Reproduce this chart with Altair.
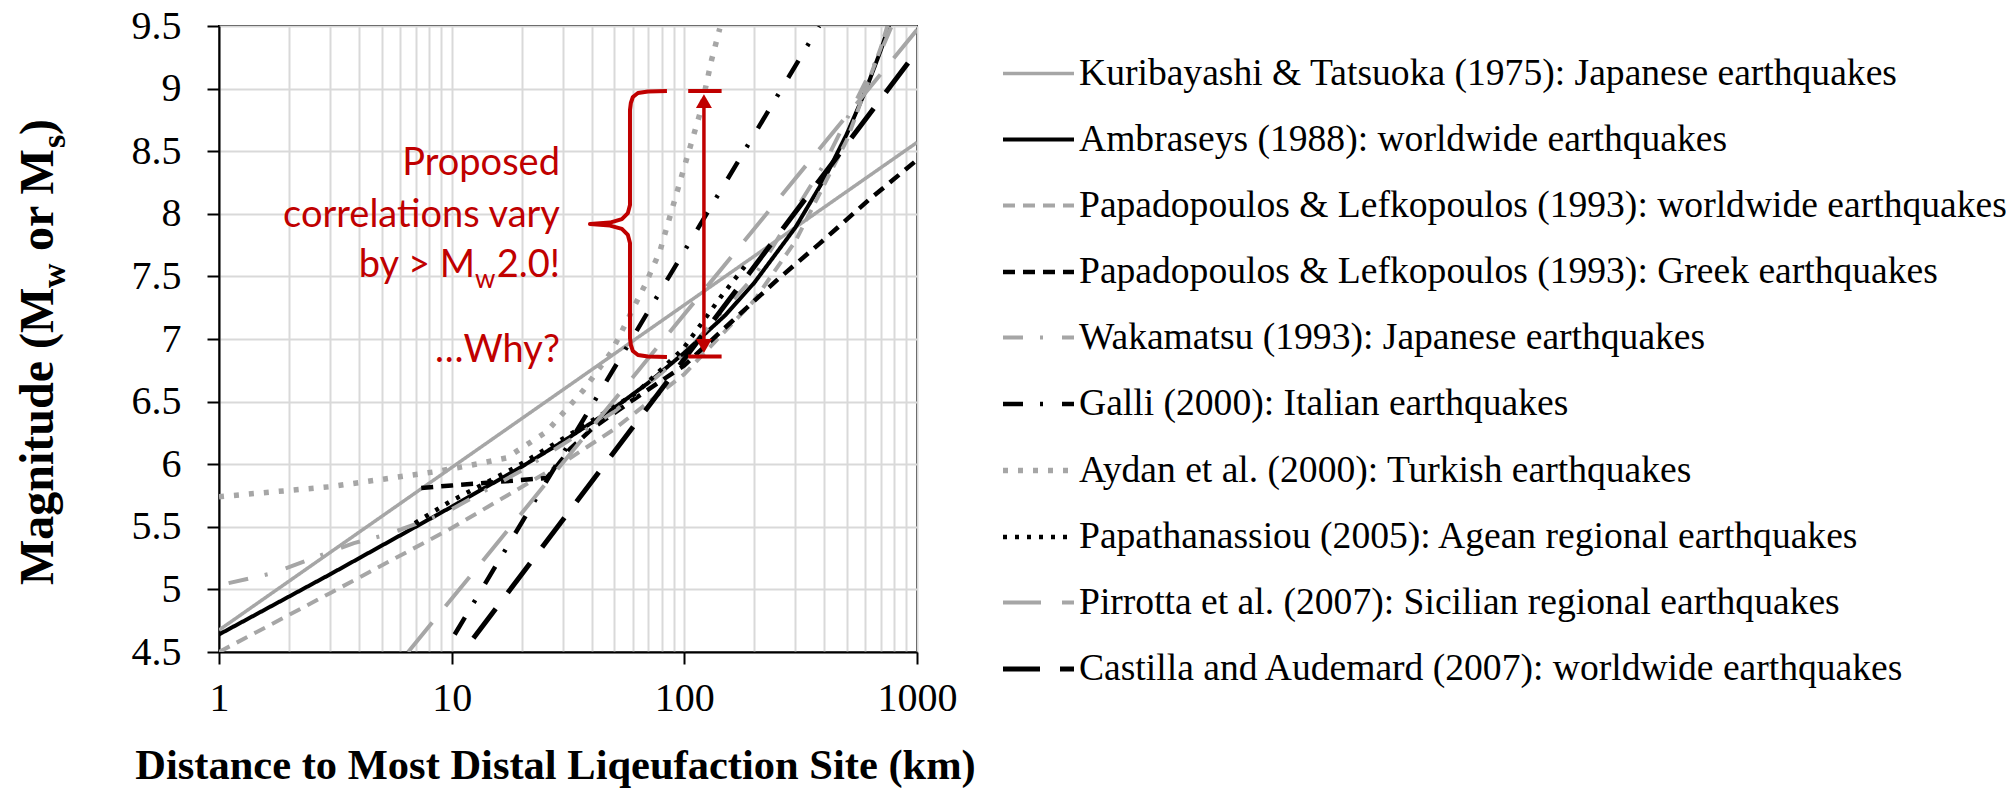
import altair as alt
import pandas as pd

# ---------------- data ----------------
NAMES = [
    "Kuribayashi & Tatsuoka (1975): Japanese earthquakes",
    "Ambraseys (1988): worldwide earthquakes",
    "Papadopoulos & Lefkopoulos (1993): worldwide earthquakes",
    "Papadopoulos & Lefkopoulos (1993): Greek earthquakes",
    "Wakamatsu (1993): Japanese earthquakes",
    "Galli (2000): Italian earthquakes",
    "Aydan et al. (2000): Turkish earthquakes",
    "Papathanassiou (2005): Agean regional earthquakes",
    "Pirrotta et al. (2007): Sicilian regional earthquakes",
    "Castilla and Audemard (2007): worldwide earthquakes",
]

KT_X = [1, 1000]
KT_M = [4.675, 8.57]

AMB_X = [1, 3, 10, 20, 30, 50, 70, 100, 150, 200, 300, 400, 500, 600, 700, 760]
AMB_M = [4.64, 5.12, 5.66, 5.98, 6.18, 6.45, 6.65, 6.89, 7.19, 7.45, 7.89, 8.28, 8.64, 8.98, 9.31, 9.51]

PLW_X = [1, 3, 10, 30, 50, 100, 200, 300, 500, 700, 760]
PLW_M = [4.50, 4.97, 5.49, 6.01, 6.28, 6.72, 7.31, 7.78, 8.59, 9.33, 9.55]

PLG_X = [7.4, 10, 16, 25.6, 28.2, 32.2, 40.5, 62, 100, 160, 250, 380, 620, 1000]
PLG_M = [5.81, 5.83, 5.86, 5.89, 5.98, 6.12, 6.29, 6.53, 6.79, 7.14, 7.47, 7.76, 8.11, 8.43]

WAK_X = [1.1, 1.7, 3.8, 5.3, 8, 10, 20, 50, 100, 200, 400, 700, 800]
WAK_M = [5.05, 5.13, 5.37, 5.44, 5.56, 5.64, 5.95, 6.42, 6.88, 7.50, 8.40, 9.30, 9.55]

GAL_X = [10.3, 380]
GAL_M = [4.64, 9.50]

AYD_X = [1, 3, 8.5, 11.2, 17.2, 25.6, 36.8, 48.7, 67.7, 78.5, 97.3, 116.7, 131, 142]
AYD_M = [5.74, 5.82, 5.94, 5.98, 6.05, 6.26, 6.59, 6.90, 7.43, 7.70, 8.30, 8.80, 9.23, 9.48]

PAP_X = [6.95, 9.8, 19, 34.4, 62.2, 98.6, 114, 144, 182]
PAP_M = [5.53, 5.70, 5.98, 6.27, 6.57, 6.92, 7.08, 7.34, 7.58]

PIR_X = [6.5, 1000]
PIR_M = [4.50, 9.47]

CAS_X = [12.4, 1000]
CAS_M = [4.61, 9.30]

SERIES_X = [KT_X, AMB_X, PLW_X, PLG_X, WAK_X, GAL_X, AYD_X, PAP_X, PIR_X, CAS_X]
SERIES_M = [KT_M, AMB_M, PLW_M, PLG_M, WAK_M, GAL_M, AYD_M, PAP_M, PIR_M, CAS_M]

GRAY = "#a6a6a6"
BLACK = "#000000"
RED = "#c00000"
COLORS = [GRAY, BLACK, GRAY, BLACK, GRAY, BLACK, GRAY, BLACK, GRAY, BLACK]
DASHES = [[1, 0], [1, 0], [12, 8], [12, 8], [20, 17, 3, 19], [20, 17, 3, 19],
          [5, 10], [4, 8], [38, 21], [37, 20]]
WIDTHS = [3.5, 4, 4, 4.5, 4, 4.5, 5.5, 4.5, 4, 5]

X_TICKS = [1, 2, 3, 4, 5, 6, 7, 8, 9, 10, 20, 30, 40, 50, 60, 70, 80, 90,
           100, 200, 300, 400, 500, 600, 700, 800, 900, 1000]
Y_TICKS = [4.5, 5, 5.5, 6, 6.5, 7, 7.5, 8, 8.5, 9, 9.5]

# annotation (data units)
BRACE_X = [84.2, 69.8, 63.2, 60.1, 58.9, 58.4, 58.4, 57.2, 53.9, 47.9, 39.3,
           47.9, 53.9, 57.2, 58.4, 58.4, 58.9, 60.1, 63.2, 69.8, 84.2]
BRACE_M = [8.981, 8.977, 8.965, 8.933, 8.885, 8.829, 8.070, 8.006, 7.958, 7.930, 7.918,
           7.906, 7.879, 7.831, 7.767, 7.008, 6.952, 6.904, 6.872, 6.860, 6.856]
ARROW_X = 121.4
ARROW_TOP = 8.98
ARROW_BOT = 6.86
CAP_X = [103.9, 144.6]
NOTE_X = 29.2
NOTE_LINES = ["Proposed", "correlations vary", "\u2026Why?"]
NOTE_M = [8.31, 7.895, 6.816]
NOTE_BY_M = 7.495

rows = []
for name, xs, ms in zip(NAMES, SERIES_X, SERIES_M):
    for i, (x, m) in enumerate(zip(xs, ms)):
        rows.append({"name": name, "x": x, "m": m, "idx": i})
df = pd.DataFrame(rows)

xscale = alt.Scale(type="log", domain=[1, 1000], nice=False)
yscale = alt.Scale(domain=[4.5, 9.5], nice=False, zero=False)

legend = alt.Legend(
    title=None, orient="none", legendX=781, legendY=10,
    symbolType="stroke", symbolSize=5041, symbolStrokeWidth=3.5,
    labelFont="Liberation Serif", labelFontSize=37.6, labelColor="black",
    labelLimit=1200, labelOffset=2, rowPadding=9, padding=0,
)

decade_test = "indexof([1,10,100,1000], datum.value) >= 0"

x_enc = alt.X(
    "x:Q", scale=xscale,
    axis=alt.Axis(
        values=X_TICKS,
        labelExpr=decade_test + " ? format(datum.value, 'd') : ''",
        labelOverlap=False, labelFlush=False,
        grid=True, gridColor="#d9d9d9", gridWidth=2,
        tickSize=12, tickWidth=2, tickColor="black",
        tickOpacity={"condition": {"test": decade_test, "value": 1}, "value": 0},
        domainColor="black", domainWidth=2,
        labelFont="Liberation Serif", labelFontSize=40, labelColor="black",
        labelPadding=14,
        title="Distance to Most Distal Liqeufaction Site (km)",
        titleFont="Liberation Serif", titleFontSize=42.5, titleFontWeight="bold",
        titleColor="black", titleBaseline="alphabetic", titleY=126, titleX=336,
    ),
)
y_enc = alt.Y(
    "m:Q", scale=yscale,
    axis=alt.Axis(
        values=Y_TICKS, format="~g",
        grid=True, gridColor="#d9d9d9", gridWidth=2,
        tickSize=12, tickWidth=2, tickColor="black",
        domainColor="black", domainWidth=2,
        labelFont="Liberation Serif", labelFontSize=40, labelColor="black",
        labelPadding=26, title=None,
    ),
)

lines = alt.Chart(df).mark_line(clip=True, strokeCap="butt", strokeJoin="round").encode(
    x=x_enc,
    y=y_enc,
    color=alt.Color("name:N", scale=alt.Scale(domain=NAMES, range=COLORS), sort=NAMES, legend=legend),
    strokeDash=alt.StrokeDash("name:N", scale=alt.Scale(domain=NAMES, range=DASHES), sort=NAMES, legend=legend),
    strokeWidth=alt.StrokeWidth("name:N", scale=alt.Scale(type="ordinal", domain=NAMES, range=WIDTHS), legend=None),
    order="idx:Q",
)

brace_df = pd.DataFrame({"x": BRACE_X, "m": BRACE_M, "i": list(range(len(BRACE_X)))})
brace = alt.Chart(brace_df).mark_line(color=RED, strokeWidth=4, strokeJoin="round").encode(
    x="x:Q", y="m:Q", order="i:Q")

arrow_df = pd.DataFrame({"x": [ARROW_X], "top": [ARROW_TOP - 0.1], "bot": [ARROW_BOT + 0.1]})
arrow = alt.Chart(arrow_df).mark_rule(color=RED, strokeWidth=3.5).encode(
    x="x:Q", y="top:Q", y2="bot:Q")

caps_df = pd.DataFrame({"x": [CAP_X[0]] * 2, "x2": [CAP_X[1]] * 2, "m": [ARROW_TOP, ARROW_BOT]})
caps = alt.Chart(caps_df).mark_rule(color=RED, strokeWidth=4).encode(
    x="x:Q", x2="x2:Q", y="m:Q")

head_up = alt.Chart(pd.DataFrame({"x": [ARROW_X], "m": [8.90]})).mark_point(
    shape="triangle-up", filled=True, color=RED, size=256, opacity=1).encode(x="x:Q", y="m:Q")
head_dn = alt.Chart(pd.DataFrame({"x": [ARROW_X], "m": [6.944]})).mark_point(
    shape="triangle-down", filled=True, color=RED, size=256, opacity=1).encode(x="x:Q", y="m:Q")

NOTE_FONT = "Lato"
notes = alt.Chart(pd.DataFrame({"x": [NOTE_X] * 3, "m": NOTE_M, "t": NOTE_LINES})).mark_text(
    align="right", baseline="alphabetic", font=NOTE_FONT, fontSize=38, color=RED).encode(
    x="x:Q", y="m:Q", text="t:N")
note_a = alt.Chart(pd.DataFrame({"x": [NOTE_X], "m": [NOTE_BY_M], "t": ["2.0!"]})).mark_text(
    align="right", baseline="alphabetic", font=NOTE_FONT, fontSize=38, color=RED).encode(
    x="x:Q", y="m:Q", text="t:N")
note_b = alt.Chart(pd.DataFrame({"x": [NOTE_X], "m": [NOTE_BY_M], "t": ["by > M"]})).mark_text(
    align="right", baseline="alphabetic", font=NOTE_FONT, fontSize=38, color=RED, dx=-85).encode(
    x="x:Q", y="m:Q", text="t:N")
note_w = alt.Chart(pd.DataFrame({"x": [NOTE_X], "m": [NOTE_BY_M], "t": ["w"]})).mark_text(
    align="left", baseline="alphabetic", font=NOTE_FONT, fontSize=26, color=RED, dx=-85, dy=11).encode(
    x="x:Q", y="m:Q", text="t:N")

# y-axis title with subscripts, built from text pieces
YT_PIECES = ["Magnitude (M", "w", "or M", "s", ")"]
YT_SIZE = [48, 34, 48, 34, 48]
YT_Y = [559, 262, 225, 122, 109]
YT_X = [-166, -154, -166, -154, -166]
ytitle = []
for t, s, yy, xx in zip(YT_PIECES, YT_SIZE, YT_Y, YT_X):
    ytitle.append(
        alt.Chart(pd.DataFrame({"t": [t]})).mark_text(
            angle=270, align="left", baseline="alphabetic", font="Liberation Serif",
            fontWeight="bold", fontSize=s, color="black").encode(
            x=alt.value(xx), y=alt.value(yy), text="t:N")
    )

chart = alt.layer(lines, brace, arrow, caps, head_up, head_dn, notes, note_a, note_b, note_w, *ytitle).properties(
    width=698, height=626,
    autosize=alt.AutoSizeParams(type="none"),
    padding={"left": 211, "top": 18, "right": 1089, "bottom": 136},
    background="white",
).configure_view(stroke="black", strokeWidth=2)

chart.save("out.html", embed_options={"renderer": "svg", "actions": False})
